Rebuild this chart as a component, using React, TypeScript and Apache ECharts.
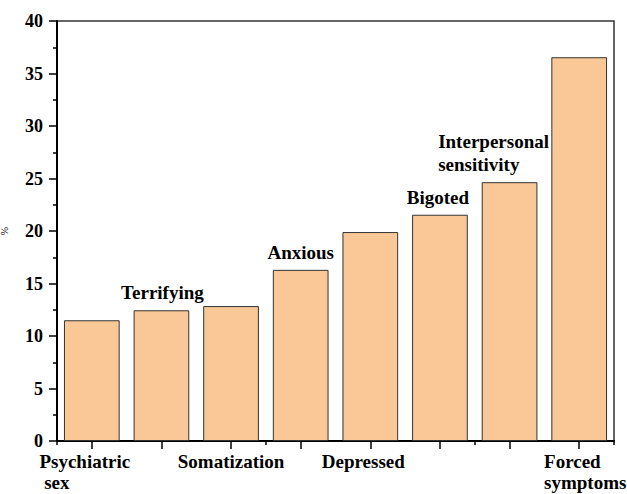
import React, { useEffect, useRef } from "react";
import * as echarts from "echarts";

const categories = [
  "Psychiatric sex",
  "Terrifying",
  "Somatization",
  "Anxious",
  "Depressed",
  "Bigoted",
  "Interpersonal sensitivity",
  "Forced symptoms",
];
const values = [11.5, 12.45, 12.85, 16.3, 19.9, 21.55, 24.65, 36.55];
const axisLabelText = ["Psychiatric\n sex", "", "Somatization", "", "Depressed", "", "", "Forced\nsymptoms"];
const barLabelText = ["", "Terrifying", "", "Anxious", "", "Bigoted", "Interpersonal\nsensitivity", ""];
const yTicks = { min: 0, max: 40, interval: 5 };

const FONT = "Liberation Serif, Times New Roman, serif";

const axisOffsets = [-7, 0, 0, 0, -7, 0, 0, 6];
const barOffsets = [0, 1, 0, 0, 0, -2, -16, 0];

const toRich = (s: string) =>
  s
    .split("\n")
    .map((l) => (l ? `{l|${l}}` : ""))
    .join("\n");

export default function App() {
  const ref = useRef<HTMLDivElement>(null);
  useEffect(() => {
    document.body.style.margin = "0";
    if (!ref.current) return;
    const chart = echarts.init(ref.current, null, { renderer: "svg" });
    const richAxis = {
      l: {
        align: "left",
        fontFamily: FONT,
        fontWeight: "bold",
        fontSize: 19,
        lineHeight: 21,
        color: "#000",
      },
    };
    const richBar = {
      l: {
        align: "left",
        fontFamily: FONT,
        fontWeight: "bold",
        fontSize: 19,
        lineHeight: 23,
        color: "#000",
      },
    };
    chart.setOption({
      animation: false,
      backgroundColor: "#fff",
      textStyle: { fontFamily: FONT },
      grid: {
        left: 57,
        right: 13,
        top: 21,
        bottom: 53,
        outerBoundsMode: "none",
        containLabel: false,
        show: true,
        borderColor: "#333",
        borderWidth: 1.5,
      },
      xAxis: [
        {
          type: "category",
          data: categories.map((c, i) => ({
            value: c,
            textStyle: { padding: axisOffsets[i] < 0 ? [0, -2 * axisOffsets[i], 0, 0] : [0, 0, 0, 2 * axisOffsets[i]] },
          })),
          axisLine: { show: true, lineStyle: { color: "#000", width: 2 } },
          axisTick: { show: true, alignWithLabel: true, length: 8, lineStyle: { color: "#000", width: 1.5 } },
          axisLabel: {
            interval: 0,
            margin: 10,
            fontFamily: FONT,
            formatter: (_v: string, i: number) => toRich(axisLabelText[i]),
            rich: richAxis,
          },
          splitLine: { show: false },
        },
        {
          type: "category",
          data: categories,
          position: "bottom",
          axisLine: { show: false },
          axisTick: { show: true, length: 4, lineStyle: { color: "#000", width: 1.5 } },
          axisLabel: { show: false },
          splitLine: { show: false },
        },
      ],
      yAxis: {
        type: "value",
        min: yTicks.min,
        max: yTicks.max,
        interval: yTicks.interval,
        name: "%",
        nameLocation: "middle",
        nameGap: 48,
        nameTextStyle: { fontFamily: FONT, fontSize: 10, color: "#000" },
        axisLine: { show: true, lineStyle: { color: "#000", width: 2 } },
        axisTick: { show: true, length: 8, lineStyle: { color: "#000", width: 1.5 } },
        minorTick: { show: true, splitNumber: 2, length: 4, lineStyle: { color: "#000", width: 1.5 } },
        splitLine: { show: false },
        axisLabel: {
          margin: 14,
          fontFamily: FONT,
          fontWeight: "bold",
          fontSize: 18,
          color: "#000",
        },
      },
      series: [
        {
          type: "bar",
          xAxisIndex: 0,
          barWidth: "80%",
          data: values.map((v, i) => ({
            value: v,
            label: { offset: [barOffsets[i], 0] },
          })),
          itemStyle: { color: "#F9C896", borderColor: "#333", borderWidth: 1 },
          label: {
            show: true,
            position: "top",
            distance: 6,
            fontFamily: FONT,
            formatter: (p: any) => toRich(barLabelText[p.dataIndex]),
            rich: richBar,
          },
        },
      ],
    });
    return () => chart.dispose();
  }, []);
  return <div ref={ref} style={{ width: 627, height: 494 }} />;
}
